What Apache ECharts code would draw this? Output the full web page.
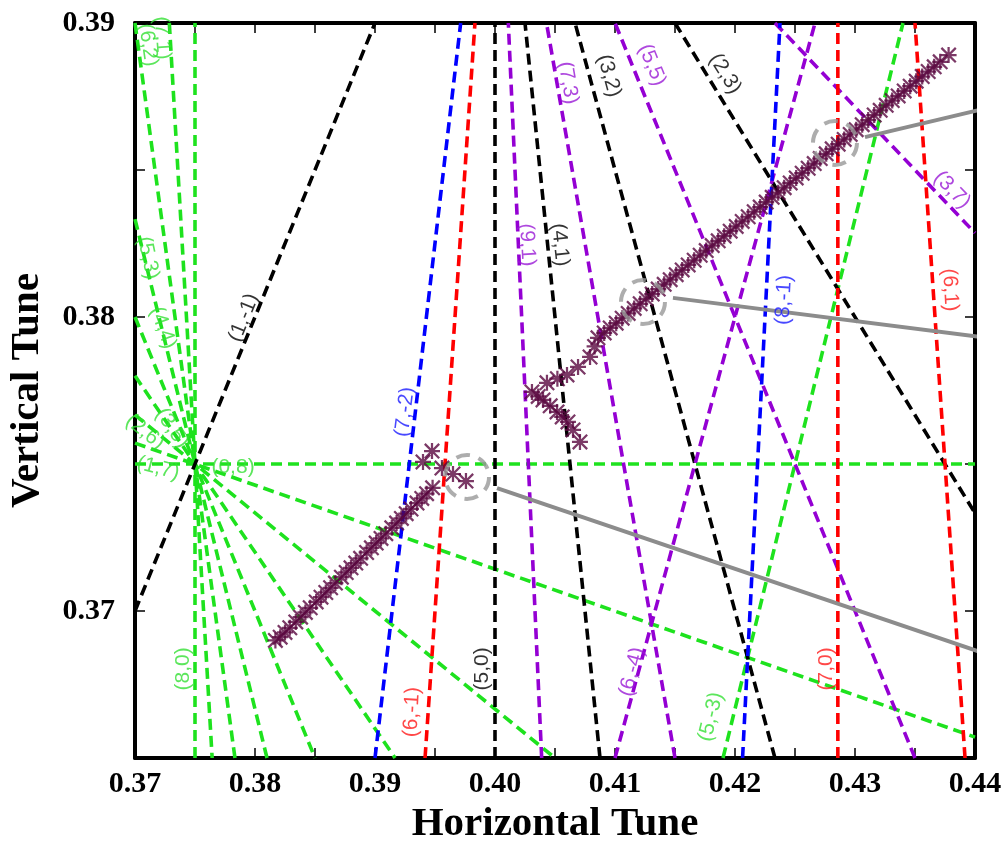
<!DOCTYPE html>
<html>
<head>
<meta charset="utf-8">
<script src="https://cdn.jsdelivr.net/npm/echarts@6/dist/echarts.min.js"></script>
<style>
html,body{margin:0;padding:0;background:#fff;}
#chart{width:1004px;height:841px;}
</style>
</head>
<body>
<div id="chart"></div>
<script>
// resonance lines, each as two end points [Qx, Qy]
var blackRes = [
  [[0.37, 0.37], [0.39, 0.39]],          // (1,-1)
  [[0.40, 0.365], [0.40, 0.39]],         // (5,0)
  [[0.40875, 0.365], [0.4025, 0.39]],    // (4,1)
  [[0.42333, 0.365], [0.40667, 0.39]],   // (3,2)
  [[0.415, 0.39], [0.44, 0.37333]]       // (2,3)
];
var redRes = [
  [[0.39417, 0.365], [0.39833, 0.39]],   // (6,-1)
  [[0.42857, 0.365], [0.42857, 0.39]],   // (7,0)
  [[0.43917, 0.365], [0.435, 0.39]]      // (6,1)
];
var blueRes = [
  [[0.39, 0.365], [0.39714, 0.39]],      // (7,-2)
  [[0.42063, 0.365], [0.42375, 0.39]]    // (8,-1)
];
var purpleRes = [
  [[0.40389, 0.365], [0.40111, 0.39]],   // (9,1)
  [[0.415, 0.365], [0.40429, 0.39]],     // (7,3)
  [[0.435, 0.365], [0.41, 0.39]],        // (5,5)
  [[0.41, 0.365], [0.42667, 0.39]],      // (6,-4)
  [[0.42333, 0.39], [0.44, 0.38286]]     // (3,7)
];
var greenRes = [
  [[0.375, 0.365], [0.375, 0.39]],       // (8,0)
  [[0.37, 0.375], [0.44, 0.375]],        // (0,8)
  [[0.37286, 0.39], [0.37643, 0.365]],   // (7,1)
  [[0.37, 0.39], [0.37833, 0.365]],      // (6,2)
  [[0.37, 0.38333], [0.381, 0.365]],     // (5,3)
  [[0.37, 0.38], [0.385, 0.365]],        // (4,4)
  [[0.37, 0.378], [0.39167, 0.365]],     // (3,5)
  [[0.37, 0.37667], [0.405, 0.365]],     // (2,6)
  [[0.37, 0.37571], [0.44, 0.36571]],    // (1,7)
  [[0.419, 0.365], [0.434, 0.39]]        // (5,-3)
];

// measured tunes
var tuneLow = [
  [0.3817,0.3690],[0.3821,0.36911],[0.3825,0.36927],[0.3829,0.36943],[0.3834,0.36963],
  [0.3838,0.36979],[0.3842,0.36995],[0.3846,0.37011],[0.3851,0.37031],[0.3855,0.37047],
  [0.3859,0.37063],[0.3863,0.37079],[0.3867,0.37095],[0.3872,0.37115],[0.3876,0.37131],
  [0.3880,0.37147],[0.3884,0.37163],[0.3888,0.37179],[0.3893,0.37199],[0.3897,0.37215],
  [0.3901,0.37231],[0.3905,0.37247],[0.3909,0.37263],[0.3914,0.37283],[0.3918,0.37299],
  [0.3922,0.37315],[0.3926,0.37331],[0.3930,0.37347],[0.3935,0.37367],[0.3939,0.37383],
  [0.3943,0.37399],[0.3948,0.37419]
];
var tuneJump = [
  [0.3940,0.37507],[0.39475,0.37544],[0.39558,0.37486],[0.3965,0.37466],[0.39758,0.37442]
];
var tuneBranch = [
  [0.40308,0.37745],[0.4036,0.3773],[0.404,0.37718],[0.4046,0.37698],[0.40517,0.37677],
  [0.4056,0.3766],[0.40608,0.37643],[0.4065,0.37616],[0.40708,0.37575]
];
var tuneHigh = [
  [0.40433,0.37776],[0.4052,0.3779],[0.406,0.37803],[0.40692,0.3783],[0.40792,0.37864],
  [0.4083,0.379],[0.40858,0.37929],[0.4091,0.37946],[0.4096,0.37963],[0.4101,0.37979],
  [0.4106,0.37996],[0.4111,0.38012],[0.4116,0.38029],[0.4121,0.38045],[0.4126,0.38062],
  [0.4131,0.38078],[0.4136,0.38095],[0.4141,0.38111],[0.4146,0.38127],[0.4151,0.38144],
  [0.4156,0.3816],[0.4161,0.38177],[0.4166,0.38193],[0.4171,0.3821],[0.4176,0.38226],
  [0.4181,0.38243],[0.4186,0.38259],[0.4191,0.38275],[0.4196,0.38292],[0.4201,0.38308],
  [0.4206,0.38325],[0.4211,0.38341],[0.4216,0.38358],[0.4221,0.38374],[0.4226,0.38391],
  [0.4231,0.38407],[0.4236,0.38423],[0.4241,0.3844],[0.4246,0.38456],[0.4251,0.38473],
  [0.4256,0.38489],[0.4261,0.38506],[0.4266,0.38522],[0.4271,0.38539],[0.4276,0.38555],
  [0.4281,0.38572],[0.4286,0.38588],[0.4291,0.38604],[0.4296,0.38621],[0.4301,0.38637],
  [0.4306,0.38654],[0.4311,0.3867],[0.4316,0.38687],[0.4321,0.38703],[0.4326,0.3872],
  [0.4331,0.38736],[0.4336,0.38752],[0.4341,0.38769],[0.4346,0.38785],[0.4351,0.38802],
  [0.4356,0.38818],[0.4361,0.38835],[0.4366,0.38851],[0.4371,0.38868],[0.4378,0.38891]
];

// highlighted points and pointer lines
var circlePts = [[0.39767,0.37456],[0.41233,0.38051],[0.42833,0.38592]];
var pointers = [
  [[0.40017,0.37418],[0.44242,0.36833]],
  [[0.41483,0.38065],[0.44242,0.37922]],
  [[0.43083,0.38612],[0.44242,0.38724]]
];

// resonance labels: text, Qx, Qy, angle, colour group
var resLabels = [
  ['(1,-1)',0.37908,0.37997,68,'k'],
  ['(5,0)',0.39892,0.36803,90,'k'],
  ['(4,1)',0.40542,0.38245,-84,'k'],
  ['(3,2)',0.4095,0.3882,-75,'k'],
  ['(2,3)',0.41917,0.38827,-58,'k'],
  ['(6,-1)',0.39308,0.36656,87,'r'],
  ['(7,0)',0.42758,0.36803,90,'r'],
  ['(6,1)',0.43792,0.38092,-87,'r'],
  ['(7,-2)',0.3925,0.37677,83,'b'],
  ['(8,-1)',0.42408,0.38058,87,'b'],
  ['(9,1)',0.40267,0.38245,-87,'p'],
  ['(7,3)',0.40608,0.38796,-80,'p'],
  ['(5,5)',0.41308,0.38857,-68,'p'],
  ['(6,-4)',0.41142,0.36793,75,'p'],
  ['(3,7)',0.43808,0.38432,-46,'p'],
  ['(8,0)',0.374,0.36803,90,'g'],
  ['(0,8)',0.37817,0.3749,0,'g'],
  ['(1,7)',0.37192,0.37486,-15,'g'],
  ['(2,6)',0.37083,0.37609,-39,'g'],
  ['(3,5)',0.37308,0.37622,-56,'g'],
  ['(4,4)',0.37233,0.37963,-70,'g'],
  ['(5,3)',0.37108,0.38201,-78,'g'],
  ['(6,2)',0.37108,0.38925,-82,'g'],
  ['(7,1)',0.37225,0.38949,-86,'g'],
  ['(5,-3)',0.418,0.3664,76,'g']
];

var colors = {k:'#000000', r:'#ff0000', b:'#0000ff', p:'#9400d3', g:'#1ee21e'};
var labelColors = {k:'#000000', r:'#ff1a1a', b:'#1a1aff', p:'#9a1ad6', g:'#33e033'};

var star = 'path://M8.6 0L11.4 0L11.4 20L8.6 20Z M0 8.6L20 8.6L20 11.4L0 11.4Z M2 0L20 18L18 20L0 2Z M18 0L20 2L2 20L0 18Z';

var chart = echarts.init(document.getElementById('chart'));
var series = [];

function addRes(list, key) {
  list.forEach(function (seg) {
    series.push({
      type: 'line',
      data: seg,
      showSymbol: false,
      silent: true,
      lineStyle: {color: colors[key], width: 3.6, type: [11, 6]},
      z: 2
    });
  });
}
addRes(greenRes, 'g');
addRes(blackRes, 'k');
addRes(purpleRes, 'p');
addRes(blueRes, 'b');
addRes(redRes, 'r');

var starStyle = {color: '#5a0840'};
[tuneLow, tuneJump, tuneBranch, tuneHigh].forEach(function (d) {
  series.push({
    type: 'scatter',
    data: d,
    symbol: star,
    symbolSize: 16,
    itemStyle: starStyle,
    z: 4
  });
});

pointers.forEach(function (seg) {
  series.push({
    type: 'line',
    data: seg,
    showSymbol: false,
    clip: false,
    lineStyle: {color: '#8c8c8c', width: 4},
    z: 5
  });
});

series.push({
  type: 'scatter',
  data: circlePts,
  symbol: 'circle',
  symbolSize: 44,
  itemStyle: {color: 'rgba(0,0,0,0)', borderColor: '#999999', borderWidth: 4, borderType: [14, 9]},
  z: 5
});

series.push({
  type: 'scatter',
  symbolSize: 0,
  clip: false,
  z: 6,
  data: resLabels.map(function (l) {
    return {
      value: [l[1], l[2]],
      label: {
        show: true,
        formatter: l[0],
        rotate: l[3],
        color: labelColors[l[4]]
      }
    };
  }),
  label: {
    position: 'inside',
    align: 'center',
    verticalAlign: 'middle',
    fontFamily: 'Liberation Sans',
    fontSize: 21
  }
});

function tickLabel(v) {
  return Math.round(v * 1000) % 10 === 0 ? v.toFixed(2) : '';
}

var axisFont = {fontFamily: 'Liberation Serif', fontWeight: 'bold', fontSize: 30, color: '#000'};
var nameFont = {fontFamily: 'Liberation Serif', fontWeight: 'bold', fontSize: 41, color: '#000'};

chart.setOption({
  animation: false,
  grid: {left: 135, right: 29, top: 23, bottom: 83, outerBoundsMode: 'none'},
  xAxis: [
    {
      type: 'value', min: 0.37, max: 0.44, interval: 0.005,
      name: 'Horizontal Tune', nameLocation: 'middle', nameGap: 44, nameTextStyle: nameFont,
      axisLine: {lineStyle: {color: '#000', width: 4}},
      axisTick: {inside: true, length: 10, lineStyle: {color: '#000', width: 1.5}},
      axisLabel: Object.assign({margin: 11, formatter: tickLabel}, axisFont),
      splitLine: {show: false}
    },
    {
      type: 'value', position: 'top', min: 0.37, max: 0.44, interval: 0.005,
      axisLine: {lineStyle: {color: '#000', width: 4}},
      axisTick: {inside: true, length: 10, lineStyle: {color: '#000', width: 1.5}},
      axisLabel: {show: false},
      splitLine: {show: false}
    }
  ],
  yAxis: [
    {
      type: 'value', min: 0.365, max: 0.39, interval: 0.005,
      name: 'Vertical Tune', nameLocation: 'middle', nameGap: 87, nameTextStyle: nameFont,
      axisLine: {lineStyle: {color: '#000', width: 4}},
      axisTick: {inside: true, length: 10, lineStyle: {color: '#000', width: 1.5}},
      axisLabel: Object.assign({margin: 20, formatter: tickLabel}, axisFont),
      splitLine: {show: false}
    },
    {
      type: 'value', position: 'right', min: 0.365, max: 0.39, interval: 0.005,
      axisLine: {lineStyle: {color: '#000', width: 4}},
      axisTick: {inside: true, length: 10, lineStyle: {color: '#000', width: 1.5}},
      axisLabel: {show: false},
      splitLine: {show: false}
    }
  ],
  series: series
});
</script>
</body>
</html>
